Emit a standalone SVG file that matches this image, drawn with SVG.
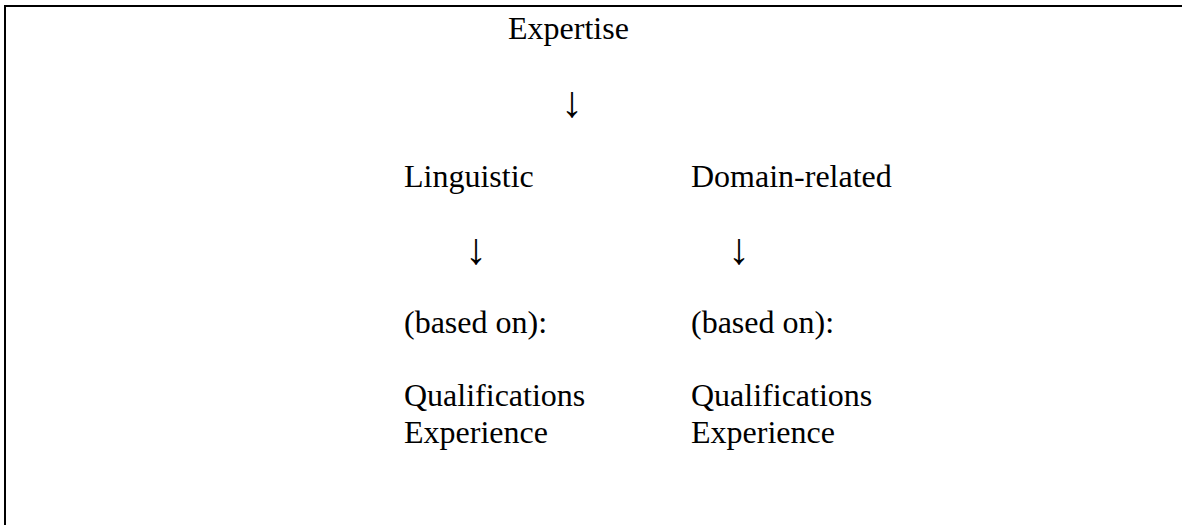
<svg xmlns="http://www.w3.org/2000/svg" width="1182" height="525" viewBox="0 0 1182 525">
<style>
.t{font-family:"Liberation Serif","Times New Roman",serif;font-size:32px;fill:#000}
.a{font-family:"Liberation Serif","Times New Roman",serif;font-size:44px;fill:#000;text-anchor:middle}
.frame{stroke:#000;stroke-width:2;fill:none}
</style>
<rect width="1182" height="525" fill="#fff"/>
<g id="frame">
<path class="frame" d="M5,525 V6 H1182"/>
</g>
<g id="node-expertise"><text class="t" x="508" y="39">Expertise</text></g>
<g id="node-linguistic"><text class="t" x="404" y="187">Linguistic</text></g>
<g id="node-domain"><text class="t" x="691" y="187">Domain-related</text></g>
<g id="node-ling-basis">
<text class="t" x="404" y="333">(based on):</text>
<text class="t" x="404" y="406">Qualifications</text>
<text class="t" x="404" y="443">Experience</text>
</g>
<g id="node-domain-basis">
<text class="t" x="691" y="333">(based on):</text>
<text class="t" x="691" y="406">Qualifications</text>
<text class="t" x="691" y="443">Experience</text>
</g>
<g id="connectors">
<text class="a" x="572" y="117">↓</text>
<text class="a" x="476" y="264">↓</text>
<text class="a" x="739" y="264">↓</text>
</g>
</svg>
